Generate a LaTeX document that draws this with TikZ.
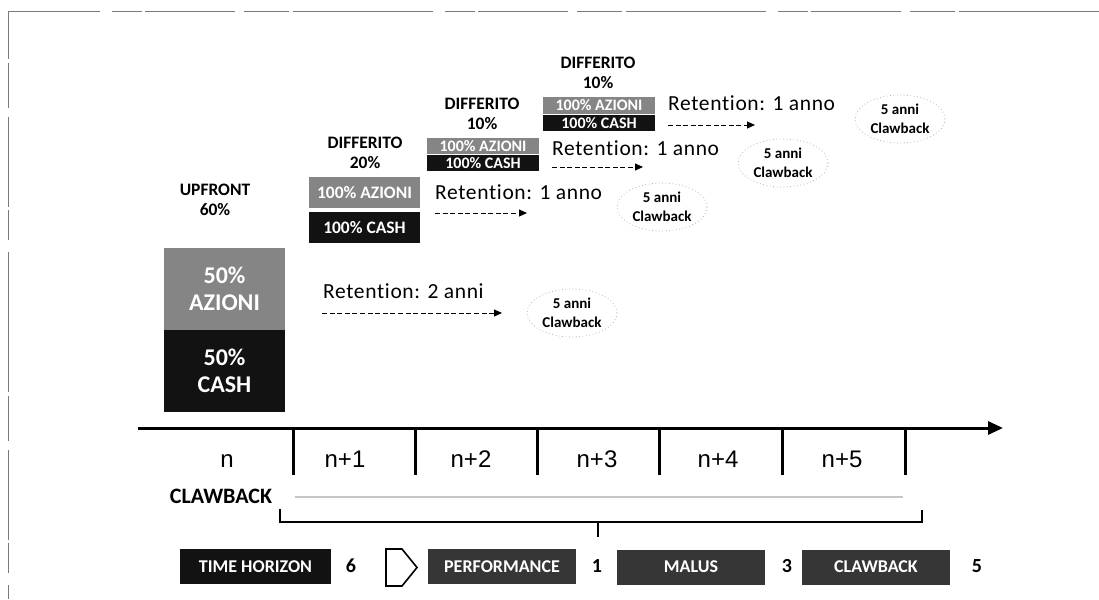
\documentclass[tikz,border=0pt]{standalone}
\usepackage{fontspec}
\setmainfont{Carlito}[Ligatures=NoCommon]
\newfontfamily\arialfont{Liberation Sans}
\usetikzlibrary{arrows.meta,shapes.geometric}

\definecolor{sharegray}{HTML}{858585}
\definecolor{cashblack}{HTML}{121212}
\definecolor{slatebox}{HTML}{363636}
\definecolor{framegray}{HTML}{7A7A7A}

\begin{document}
\begin{tikzpicture}[x=1pt,y=-1pt,
  heading/.style={font=\fontsize{17.5}{20}\selectfont\bfseries, align=center, inner sep=0},
  bigbox/.style={minimum width=121pt, minimum height=82pt, inner sep=0, text=white,
    align=center, font=\fontsize{24}{27}\selectfont\bfseries},
  midbox/.style={minimum width=111pt, minimum height=31pt, inner sep=0, text=white,
    font=\fontsize{17.5}{17.5}\selectfont\bfseries},
  smallbox/.style={minimum width=112pt, minimum height=16.5pt, inner sep=0, text=white,
    font=\fontsize{16}{16}\selectfont\bfseries},
  retention/.style={anchor=west, inner sep=0,
    font=\fontsize{21.5}{24}\selectfont\addfontfeatures{LetterSpace=3}},
  dasharrow/.style={line width=1pt, dash pattern=on 5pt off 2.6pt,
    -{Triangle[length=8pt,width=7pt]}},
  bubble/.style={ellipse, draw=gray!60, line width=0.8pt, dash pattern=on 0.8pt off 2.6pt,
    inner sep=0, minimum width=90pt, minimum height=48pt, align=center,
    font=\fontsize{15}{19}\selectfont\bfseries},
  year/.style={inner sep=0, font=\arialfont\fontsize{24}{24}\selectfont},
  tick/.style={line width=3pt},
  legendbox/.style={minimum width=150pt, minimum height=35pt, inner sep=0, text=white,
    font=\fontsize{18}{18}\selectfont\bfseries},
  legendnum/.style={inner sep=0, font=\fontsize{20}{20}\selectfont\bfseries}
]
\useasboundingbox (0,0) rectangle (1099,599);

% page frame
\coordinate (frameTL) at (8,11);
\coordinate (frameTR) at (1099,11);
\coordinate (frameBL) at (8,599);
\draw[framegray, line width=0.9pt,
  dash pattern=on 140pt off 4pt on 45pt off 9pt on 90pt off 3pt on 30pt off 12pt]
  (frameTR) -- (frameTL) -- (frameBL);

% upfront share
\node[heading] (upfront) at (215,200) {UPFRONT\\60\%};
\node[bigbox, fill=sharegray] (upShares) at (224.5,288.5) {50\%\\AZIONI};
\node[bigbox, fill=cashblack] (upCash) at (224.5,371) {50\%\\CASH};

% first deferred share
\node[heading] (diff1) at (365,153) {DIFFERITO\\20\%};
\node[midbox, fill=sharegray] (d1Shares) at (364.5,192.5) {100\% AZIONI};
\node[midbox, fill=cashblack] (d1Cash) at (364.5,227.5) {100\% CASH};

% second deferred share
\node[heading] (diff2) at (482,114) {DIFFERITO\\10\%};
\node[smallbox, fill=sharegray] (d2Shares) at (483,146) {100\% AZIONI};
\node[smallbox, fill=cashblack] (d2Cash) at (483,163) {100\% CASH};

% third deferred share
\node[heading] (diff3) at (598,73) {DIFFERITO\\10\%};
\node[smallbox, fill=sharegray] (d3Shares) at (599,105.5) {100\% AZIONI};
\node[smallbox, fill=cashblack] (d3Cash) at (599,123) {100\% CASH};

% retention periods
\node[retention] (ret0) at (323,291) {Retention: 2 anni};
\node[retention] (ret1) at (435,192) {Retention: 1 anno};
\node[retention] (ret2) at (552,148) {Retention: 1 anno};
\node[retention] (ret3) at (668,103) {Retention: 1 anno};

\coordinate (ret0s) at (322,313);  \coordinate (ret0e) at (502,313);
\coordinate (ret1s) at (435,213);  \coordinate (ret1e) at (527,213);
\coordinate (ret2s) at (552,167);  \coordinate (ret2e) at (643,167);
\coordinate (ret3s) at (668,125);  \coordinate (ret3e) at (755,125);
\draw[dasharrow] (ret0s) -- (ret0e);
\draw[dasharrow] (ret1s) -- (ret1e);
\draw[dasharrow] (ret2s) -- (ret2e);
\draw[dasharrow] (ret3s) -- (ret3e);

% clawback windows
\node[bubble] (cb0) at (572,313) {5 anni\\Clawback};
\node[bubble] (cb1) at (662,207) {5 anni\\Clawback};
\node[bubble] (cb2) at (783,163) {5 anni\\Clawback};
\node[bubble] (cb3) at (900,119) {5 anni\\Clawback};

% time axis
\coordinate (axisL) at (138,428);
\coordinate (axisR) at (1003,428);
\draw[line width=3pt, -{Triangle[length=15pt,width=13pt]}] (axisL) -- (axisR);
\foreach \x in {293,415,537,659,782,905}
  \draw[tick] (\x,427) -- (\x,475);

\node[year] (yn)  at (227,461) {n};
\node[year] (yn1) at (345,459) {n+1};
\node[year] (yn2) at (471,459) {n+2};
\node[year] (yn3) at (597,459) {n+3};
\node[year] (yn4) at (718,459) {n+4};
\node[year] (yn5) at (842,459) {n+5};

% clawback span
\node[inner sep=0, font=\fontsize{22}{22}\selectfont\bfseries] (clawLabel) at (221,496) {CLAWBACK};
\coordinate (clawS) at (295,497);
\coordinate (clawE) at (903,497);
\draw[gray!45, line width=2.5pt] (clawS) -- (clawE);

\coordinate (brL) at (280,509);
\coordinate (brR) at (922,510);
\coordinate (brMid) at (598,522);
\coordinate (brTip) at (598,537);
\draw[line width=2pt] (brL) -- (280,522) -- (922,522) -- (brR);
\draw[line width=2pt] (brMid) -- (brTip);

% legend row
\node[legendbox, fill=cashblack, minimum width=151pt] (lgTime) at (255.5,566.5) {TIME HORIZON};
\node[legendnum] (nTime) at (351,566) {6};
\draw[line width=1.6pt] (386,549) -- (402,549) -- (417,567.5) -- (402,586) -- (386,586) -- cycle;
\node[legendbox, fill=slatebox, minimum width=148pt] (lgPerf) at (502,566.5) {PERFORMANCE};
\node[legendnum] (nPerf) at (597,566) {1};
\node[legendbox, fill=slatebox, minimum width=148pt] (lgMalus) at (691,567) {MALUS};
\node[legendnum] (nMalus) at (787,566) {3};
\node[legendbox, fill=slatebox, minimum width=148pt] (lgClaw) at (876,567) {CLAWBACK};
\node[legendnum] (nClaw) at (977,566) {5};
\end{tikzpicture}
\end{document}
